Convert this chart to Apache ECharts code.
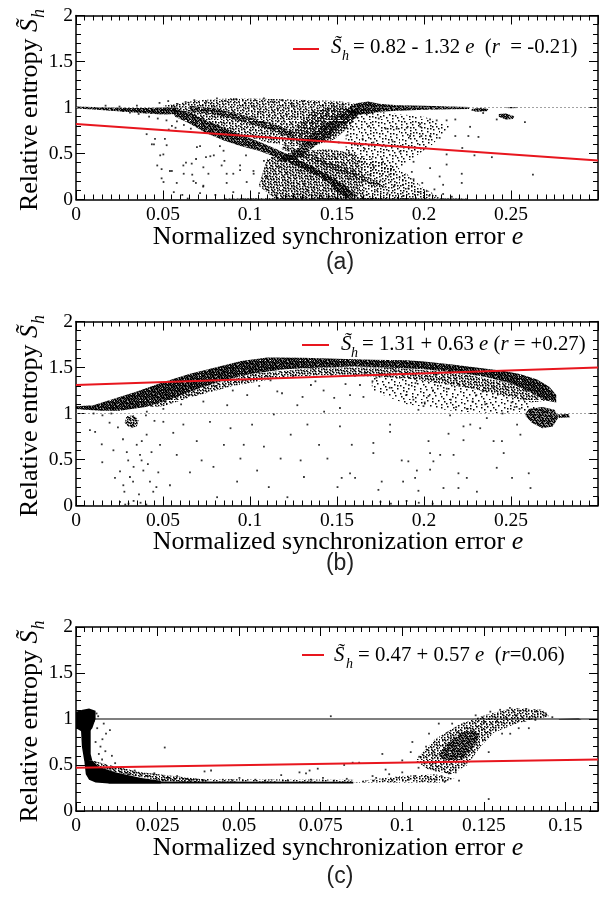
<!DOCTYPE html>
<html><head><meta charset="utf-8">
<script src="https://cdn.jsdelivr.net/npm/echarts@6/dist/echarts.min.js"></script>
<style>html,body{margin:0;padding:0;background:#fff}#c{width:599px;height:898px}</style>
</head><body><div id="c"></div>
<script>
// ---------------- DATA ----------------
const yTicks = [0, 0.5, 1, 1.5, 2];
const xTicksAB = [0, 0.05, 0.1, 0.15, 0.2, 0.25, 0.3];
const xTicksC = [0, 0.025, 0.05, 0.075, 0.1, 0.125, 0.15];
const xMaxC = 0.16;

// regression lines (endpoints)
const regA = [[0, 0.82], [0.3, 0.424]];
const regB = [[0, 1.31], [0.3, 1.499]];
const regC = [[0, 0.47], [0.16, 0.561]];
// reference lines at S=1
const refA = [[0, 1], [0.3, 1]];
const refB = [[0, 1], [0.3, 1]];
const refC = [[0, 1], [0.16, 1]];

const legendA = ['= 0.82 - 1.32 ', 'e', '  (', 'r', '  = -0.21)'];
const legendB = ['= 1.31 + 0.63 ', 'e', ' (', 'r', ' = +0.27)'];
const legendC = ['= 0.47 + 0.57 ', 'e', '  (', 'r', '=0.06)'];
const panelLabels = ['(a)', '(b)', '(c)'];

// dense point clouds, outlined as polygons [e, S]
const polyA = [
 [[0.05,1.02],[0.07,1.08],[0.09,1.1],[0.12,1.09],[0.15,1.07],[0.162,1.04],[0.166,0.97],[0.16,0.85],[0.15,0.72],[0.14,0.6],[0.125,0.58],[0.11,0.62],[0.095,0.7],[0.08,0.8],[0.065,0.9]],
 [[0,1.012],[0.01,1.005],[0.02,1.0],[0.03,0.995],[0.04,0.995],[0.05,1.0],[0.058,1.0],[0.058,0.93],[0.05,0.925],[0.04,0.935],[0.03,0.95],[0.02,0.965],[0.01,0.978],[0,0.988]],
 [[0.055,0.99],[0.065,0.95],[0.075,0.86],[0.085,0.78],[0.095,0.70],[0.105,0.63],[0.115,0.55],[0.125,0.46],[0.135,0.37],[0.145,0.27],[0.155,0.15],[0.16,0.06],[0.158,0.0],[0.15,0.08],[0.145,0.19],[0.135,0.29],[0.125,0.38],[0.115,0.46],[0.105,0.53],[0.095,0.58],[0.085,0.64],[0.075,0.72],[0.065,0.83],[0.057,0.90]],
 [[0.065,1.02],[0.08,0.99],[0.095,0.92],[0.11,0.84],[0.125,0.74],[0.125,0.66],[0.11,0.77],[0.095,0.85],[0.08,0.92],[0.065,0.96]],
 [[0.115,0.42],[0.125,0.52],[0.135,0.7],[0.145,0.85],[0.155,0.95],[0.162,0.98],[0.162,0.9],[0.152,0.8],[0.142,0.65],[0.132,0.5],[0.124,0.4]],
 [[0.11,0.45],[0.125,0.52],[0.145,0.55],[0.16,0.5],[0.165,0.3],[0.165,0.0],[0.115,0.0],[0.105,0.15]],
 [[0.16,0.5],[0.175,0.42],[0.19,0.28],[0.2,0.12],[0.21,0.02],[0.165,0.0],[0.165,0.3]],
 [[0.12,0.6],[0.14,0.45],[0.16,0.3],[0.175,0.18],[0.178,0.12],[0.172,0.14],[0.158,0.25],[0.138,0.4],[0.118,0.55]],
 [[0.155,0.96],[0.158,1.02],[0.162,1.05],[0.168,1.065],[0.174,1.04],[0.185,1.025],[0.2,1.02],[0.215,1.01],[0.226,1.005],[0.226,0.985],[0.215,0.98],[0.2,0.975],[0.185,0.965],[0.174,0.955],[0.168,0.93],[0.16,0.92]],
 [[0.228,0.99],[0.233,0.995],[0.237,0.985],[0.236,0.96],[0.23,0.955],[0.227,0.97]],
 [[0.247,1.0],[0.25,1.006],[0.254,1.003],[0.254,0.994],[0.25,0.992],[0.247,0.995]],
 [[0.243,0.93],[0.247,0.935],[0.252,0.905],[0.251,0.875],[0.247,0.87],[0.243,0.9]],
 [[0.085,0],[0.225,0],[0.225,0.012],[0.15,0.02],[0.085,0.012]],
 [[0.155,0.92],[0.175,0.95],[0.2,0.9],[0.215,0.8],[0.205,0.6],[0.19,0.4],[0.18,0.25],[0.165,0.3],[0.155,0.5]],
 [[0.125,0.75],[0.135,0.95],[0.15,1.02],[0.16,0.98],[0.158,0.8],[0.148,0.65],[0.135,0.58],[0.126,0.62]]
];
const densA = [0.28, 0.85, 0.8, 0.6, 0.6, 0.35, 0.18, 0.45, 0.9, 0.85, 0.95, 0.8, 0.7, 0.12, 0.4];

const polyB = [
 [[0,1.08],[0.01,1.09],[0.02,1.15],[0.035,1.24],[0.05,1.34],[0.065,1.43],[0.08,1.5],[0.095,1.57],[0.11,1.61],[0.13,1.605],[0.15,1.595],[0.17,1.585],[0.19,1.58],[0.2,1.565],[0.215,1.535],[0.23,1.5],[0.245,1.465],[0.255,1.43],[0.265,1.37],[0.272,1.29],[0.276,1.2],[0.276,1.12],[0.27,1.14],[0.262,1.22],[0.25,1.33],[0.235,1.4],[0.22,1.44],[0.2,1.48],[0.18,1.5],[0.16,1.51],[0.14,1.5],[0.12,1.48],[0.1,1.43],[0.085,1.36],[0.07,1.27],[0.055,1.16],[0.04,1.07],[0.025,1.03],[0.015,1.03],[0.005,1.04],[0,1.05]],
 [[0.04,1.07],[0.07,1.27],[0.1,1.43],[0.14,1.5],[0.18,1.5],[0.22,1.44],[0.25,1.33],[0.262,1.22],[0.27,1.14],[0.262,1.12],[0.245,1.2],[0.22,1.3],[0.19,1.38],[0.15,1.42],[0.12,1.4],[0.09,1.3],[0.065,1.17],[0.05,1.08]],
 [[0.17,1.4],[0.2,1.38],[0.23,1.3],[0.255,1.18],[0.265,1.05],[0.25,1.0],[0.22,1.02],[0.19,1.1],[0.17,1.25]],
 [[0.26,1.05],[0.268,1.07],[0.275,1.04],[0.277,0.95],[0.274,0.86],[0.268,0.84],[0.262,0.9],[0.258,0.98]],
 [[0.276,0.99],[0.283,0.995],[0.284,0.96],[0.277,0.95]],
 [[0.029,0.97],[0.033,0.98],[0.036,0.93],[0.035,0.86],[0.031,0.84],[0.028,0.9]]
];
const densB = [0.95, 0.35, 0.09, 0.75, 0.85, 0.5];

const polyC = [
 [[0,1.08],[0.002,1.1],[0.004,1.115],[0.006,1.09],[0.006,1.0],[0.005,0.9],[0.004,0.86],[0.002,0.86],[0,0.9]],
 [[0.0015,0.9],[0.0045,0.9],[0.0045,0.62],[0.005,0.55],[0.0025,0.55],[0.0018,0.7]],
 [[0.0025,0.56],[0.005,0.55],[0.007,0.48],[0.012,0.42],[0.02,0.36],[0.026,0.33],[0.026,0.3],[0.01,0.3],[0.006,0.31],[0.004,0.34],[0.003,0.4]],
 [[0.005,0.55],[0.01,0.5],[0.02,0.42],[0.03,0.38],[0.04,0.34],[0.04,0.31],[0.026,0.33],[0.012,0.42],[0.007,0.48]],
 [[0.01,0.3],[0.085,0.3],[0.085,0.318],[0.025,0.322],[0.01,0.33]],
 [[0.025,0.322],[0.085,0.318],[0.085,0.34],[0.05,0.345],[0.025,0.35]],
 [[0.085,0.31],[0.1,0.31],[0.113,0.31],[0.116,0.35],[0.11,0.4],[0.1,0.38],[0.09,0.34]],
 [[0.111,0.6],[0.114,0.75],[0.118,0.85],[0.122,0.88],[0.124,0.82],[0.121,0.65],[0.118,0.55],[0.114,0.53]],
 [[0.104,0.55],[0.11,0.78],[0.118,0.95],[0.126,1.05],[0.134,1.12],[0.143,1.1],[0.145,1.03],[0.135,0.95],[0.128,0.85],[0.124,0.7],[0.12,0.5],[0.115,0.4],[0.108,0.45]],
 [[0.148,1.0],[0.154,1.005],[0.155,0.995],[0.148,0.995]]
];
const densC = [1, 1, 1, 0.4, 1, 0.25, 0.25, 0.6, 0.3, 1];

// sparse points [e, S]
const scatA = [[0.0406,0.71],[0.0448,0.60],[0.0502,0.49],[0.0467,0.37],[0.0492,0.23],[0.0503,0.19],[0.0551,0.31],[0.0617,0.37],[0.0665,0.39],[0.0619,0.28],[0.0668,0.27],[0.0713,0.58],[0.0761,0.28],[0.0792,0.48],[0.0827,0.58],[0.0837,0.37],[0.0866,0.18],[0.0904,0.28],[0.0943,0.32],[0.0981,0.19],[0.1021,0.28],[0.0689,0.18],[0.0731,0.14],[0.0562,0.08],[0.0611,0.05],[0.0642,0.01],[0.0713,0.07],[0.0801,0.05],[0.0904,0.08],[0.1052,0.07],[0.0551,0.80],[0.0533,0.76],[0.0572,0.78],[0.0454,0.66],[0.0511,0.66],[0.0521,0.59],[0.0436,0.60],[0.0484,0.48],[0.0695,0.57],[0.0772,0.47],[0.0848,0.53],[0.0632,0.40],[0.0690,0.44],[0.0747,0.46],[0.0853,0.42],[0.0977,0.48],[0.1080,0.42],[0.1130,0.45],[0.0492,0.33],[0.0540,0.31],[0.0732,0.35],[0.0866,0.28],[0.0943,0.37],[0.1020,0.31],[0.1095,0.24],[0.0675,0.20],[0.0732,0.15],[0.0579,0.18],
 [0.036,0.93],[0.031,0.945],[0.042,0.90],[0.047,0.88],[0.052,0.86],[0.058,0.85],[0.062,0.81],[0.066,0.77],[0.045,0.97],[0.025,1.01],[0.017,1.02],[0.035,1.02],[0.048,1.05],[0.053,1.07],[0.058,1.04],[0.027,0.96],[0.039,0.95],
 [0.063,1.06],[0.068,1.08],[0.075,1.06],[0.081,1.10],[0.086,1.07],[0.092,1.09],[0.097,1.05],[0.103,1.08],[0.108,1.10],[0.113,1.06],[0.118,1.08],[0.124,1.04],[0.131,1.07],[0.137,1.05],[0.142,1.02],[0.148,1.04],[0.153,1.03],
 [0.105,0.95],[0.111,0.90],[0.116,0.98],[0.121,0.92],[0.126,0.95],[0.131,0.88],[0.136,0.82],[0.141,0.90],[0.146,0.68],[0.151,0.62],[0.156,0.70],[0.161,0.60],[0.166,0.55],[0.171,0.62],[0.176,0.58],[0.129,0.60],[0.124,0.64],[0.118,0.70],[0.112,0.72],
 [0.117,0.35],[0.121,0.28],[0.122,0.19],[0.125,0.12],[0.127,0.06],[0.129,0.31],[0.131,0.17],[0.133,0.09],[0.135,0.25],[0.137,0.13],[0.139,0.42],[0.141,0.04],[0.143,0.21],[0.144,0.33],[0.147,0.11],[0.149,0.45],[0.150,0.29],[0.153,0.38],[0.155,0.07],[0.157,0.23],[0.159,0.31],[0.161,0.13],[0.163,0.41],[0.164,0.19],[0.167,0.05],[0.169,0.27],[0.171,0.36],[0.173,0.10],[0.175,0.21],[0.176,0.44],[0.179,0.07],[0.181,0.33],[0.183,0.15],[0.186,0.24],[0.188,0.04],[0.191,0.12],[0.193,0.30],[0.197,0.08],[0.199,0.18],[0.203,0.04],[0.206,0.11],[0.211,0.06],[0.216,0.03],
 [0.1843,0.77],[0.1901,0.78],[0.1977,0.82],[0.2035,0.87],[0.2073,0.86],[0.213,0.86],[0.218,0.87],[0.198,0.79],[0.192,0.69],[0.1985,0.69],[0.2035,0.69],[0.209,0.67],[0.218,0.69],[0.2255,0.69],[0.2313,0.68],[0.222,0.56],[0.229,0.48],[0.239,0.46],[0.2217,0.28],[0.2217,0.18],[0.2626,0.27],[0.213,0.38],[0.2035,0.34],[0.194,0.41],[0.186,0.52],[0.209,0.25],[0.211,0.16],[0.2016,0.09],[0.194,0.22],[0.188,0.16],[0.180,0.27],[0.1765,0.41],[0.2418,0.87],[0.2265,0.79],[0.213,0.49],[0.182,0.63],[0.178,0.77],[0.174,0.88],[0.1685,0.80],[0.1647,0.66],[0.157,0.51],[0.258,0.84],[0.234,0.94]];

const scatB = [[0.008,0.82],[0.011,0.80],[0.0148,0.665],[0.0151,0.47],[0.0215,0.60],[0.0253,0.37],[0.0272,0.22],[0.0278,0.15],[0.0253,0.04],[0.030,0.49],[0.031,0.31],[0.0328,0.26],[0.0349,0.66],[0.0368,0.55],[0.0377,0.49],[0.0387,0.38],[0.0406,0.77],[0.0425,0.26],[0.0444,0.15],[0.0473,0.36],[0.0483,0.66],[0.0502,0.91],[0.054,0.22],[0.0559,0.79],[0.0579,0.55],[0.0617,0.88],[0.0646,1.20],[0.0655,0.36],[0.0694,0.70],[0.0722,0.49],[0.0732,1.13],[0.077,0.91],[0.079,0.42],[0.0811,0.09],[0.085,0.66],[0.0869,1.09],[0.0888,0.84],[0.0926,0.26],[0.0945,0.51],[0.0964,0.66],[0.0984,1.20],[0.1012,0.88],[0.1041,0.38],[0.108,0.64],[0.1108,0.20],[0.1137,0.99],[0.1157,1.24],[0.1176,0.51],[0.1215,0.09],[0.1234,0.77],[0.1272,1.09],[0.1291,0.49],[0.131,0.31],[0.133,0.88],[0.135,1.31],[0.1397,0.66],[0.1426,1.02],[0.1445,0.51],[0.1484,1.17],[0.1503,0.20],
 [0.027,0.72],[0.0292,0.58],[0.0331,0.42],[0.0362,0.12],[0.0378,0.7],[0.0413,0.45],[0.0434,0.58],[0.0462,0.2],[0.0224,0.3],[0.0193,0.9],[0.0241,0.85],[0.0402,0.98],[0.0451,0.92],[0.0331,0.05],[0.0302,0.02],[0.0371,0.03],[0.0283,0.01],[0.0404,0.01],
 [0.1517,1.06],[0.1517,0.86],[0.1575,1.20],[0.1585,0.66],[0.1527,0.30],[0.1575,0.35],[0.1604,0.30],[0.1632,1.31],[0.1709,0.68],[0.1709,0.57],[0.1738,0.17],[0.1757,0.26],[0.1805,0.80],[0.1805,0.88],[0.1872,0.49],[0.191,0.48],[0.188,0.26],[0.1939,1.15],[0.1949,0.30],[0.1959,0.38],[0.1968,0.16],[0.1997,1.08],[0.2026,0.70],[0.2035,0.57],[0.2035,0.39],[0.2054,0.48],[0.2093,0.55],[0.2112,0.19],[0.2141,0.78],[0.215,0.98],[0.217,0.55],[0.2198,0.35],[0.2198,0.19],[0.2227,0.71],[0.2227,0.86],[0.2246,0.30],[0.2266,0.88],[0.2304,0.15],[0.2323,0.84],[0.2361,0.95],[0.24,0.70],[0.2418,0.41],[0.2448,0.70],[0.2458,0.57],[0.2506,0.30],[0.2535,0.88],[0.2554,0.77],[0.2602,0.35],[0.2612,0.19],
 [0.1053,1.3],[0.1118,1.36],[0.1184,1.22],[0.1247,1.4],[0.1302,1.18],[0.1376,1.35],[0.1423,1.25],[0.1468,1.42],[0.1549,1.32],[0.1603,1.41],[0.1652,1.18],[0.1704,1.35],[0.1751,1.43],[0.1803,1.28],[0.1862,1.39],[0.1897,1.2],[0.1951,1.33],[0.2004,1.12],[0.2052,1.25],[0.2098,1.38],[0.2154,1.15],[0.2203,1.3],[0.2247,1.05],[0.2301,1.2],[0.2352,1.1],[0.2398,1.28],[0.2451,1.0],[0.2503,1.12],[0.2549,1.05],[0.0702,1.22],[0.0803,1.3],[0.0901,1.25],[0.0953,1.35],[0.0604,1.1],[0.0502,1.05],[0.0407,1.02],[0.0203,1.0],[0.0152,0.98],[0.0101,1.0],
 [0.175,0.04],[0.181,0.02],[0.19,0.05],[0.197,0.03],[0.205,0.02],
 [0.1658,1.44],[0.1727,1.39],[0.1842,1.46],[0.1913,1.31],[0.2068,1.42],[0.2131,1.27],[0.2186,1.36],[0.2279,1.13],[0.2337,1.24],[0.2412,1.17],[0.2467,1.29],[0.2521,1.07],[0.2573,1.16],[0.2185,1.07],[0.2026,1.19],[0.1968,1.04]];

const scatC = [[0.0272,0.69],[0.0104,0.88],[0.0092,0.84],[0.0081,0.78],[0.0063,1.06],[0.0394,0.43],[0.0414,0.44],[0.0629,0.39],[0.0685,0.42],[0.0705,0.41],[0.0716,0.44],[0.0741,0.46],[0.0757,0.36],[0.0501,0.36],[0.0781,1.03],
 [0.006,0.75],[0.007,0.62],[0.0075,0.7],[0.0065,0.9],[0.008,0.56],[0.009,0.65],[0.0055,0.98],[0.0068,1.03],[0.011,0.6],[0.012,0.52],[0.0085,0.95],
 [0.014,0.42],[0.016,0.4],[0.018,0.44],[0.022,0.38],[0.024,0.41],[0.028,0.36],[0.031,0.38],[0.034,0.35],[0.037,0.34],[0.045,0.34],[0.048,0.33],[0.055,0.34],[0.058,0.33],[0.065,0.33],[0.072,0.34],[0.079,0.33],[0.083,0.35],
 [0.0822,0.50],[0.0848,0.525],[0.0868,0.525],[0.0909,0.38],[0.0939,0.62],[0.0949,0.45],[0.1000,0.55],[0.1031,0.75],[0.1026,0.64],[0.1052,0.59],[0.1073,0.70],[0.1082,0.84],[0.1092,0.62],[0.1103,0.44],[0.1112,0.95],[0.1153,0.95],[0.1143,0.41],[0.1164,0.42],[0.1174,0.33],[0.1225,1.04],[0.1245,0.88],[0.1265,0.64],[0.1306,0.84],[0.1331,0.84],[0.1357,0.90],[0.1388,0.90],[0.1408,0.99],[0.1439,1.04],[0.1265,0.13],
 [0.088,0.32],[0.091,0.33],[0.094,0.34],[0.097,0.33],[0.099,0.36],[0.102,0.34],[0.104,0.38],[0.106,0.33],[0.108,0.36],[0.11,0.34],[0.112,0.38],[0.113,0.32],[0.096,0.4],[0.1,0.42],[0.105,0.47],[0.109,0.5],[0.092,0.36],
 [0.127,1.08],[0.13,1.1],[0.133,1.12],[0.136,1.09],[0.138,1.11],[0.141,1.08],[0.144,1.06],[0.146,1.02],[0.132,1.0],[0.129,0.98],[0.125,0.96],[0.12,0.9],[0.117,0.86],[0.115,0.8],[0.139,1.01],[0.135,1.04]];

// ---------------- CHART ----------------
const SERIF = '"Liberation Serif","Times New Roman",serif';
const SANS = '"Liberation Sans",Helvetica,Arial,sans-serif';
const RED = '#e8161e';
const mctx = document.createElement('canvas').getContext('2d');
function tw(t, f) { mctx.font = f; return mctx.measureText(t).width; }

// stipple fill texture for dense clouds (style only: dots of a fixed low-discrepancy tile)
const patCache = {};
function stipple(d) {
  if (d >= 1) return '#000';
  const key = d.toFixed(2);
  if (patCache[key]) return patCache[key];
  const T = 40, cv = document.createElement('canvas');
  cv.width = T; cv.height = T;
  const c = cv.getContext('2d');
  c.fillStyle = '#000';
  const n = Math.round(d * T * T * 0.62);
  const a1 = 0.7548776662466927, a2 = 0.5698402909980532;
  for (let i = 1; i <= n; i++) {
    const u = (0.5 + a1 * i) % 1, v = (0.5 + a2 * i) % 1;
    c.fillRect(Math.floor(u * T), Math.floor(v * T), 1.5, 1.5);
  }
  patCache[key] = {image: cv, repeat: 'repeat'};
  return patCache[key];
}

const gridTops = [15.5, 321.5, 627];
const GH = 184;
const panels = [
  {xTicks: xTicksAB, xMax: xTicksAB[xTicksAB.length-1], poly: polyA, dens: densA, scat: scatA, reg: regA, ref: refA, refSolid: false, legend: legendA,
   leg: {l0: 293, l1: 319, ly: 49, sx: 331, hx: 342, rx: 353, base: 55}, label: {y: 263}, xt: 246.5},
  {xTicks: xTicksAB, xMax: xTicksAB[xTicksAB.length-1], poly: polyB, dens: densB, scat: scatB, reg: regB, ref: refB, refSolid: false, legend: legendB,
   leg: {l0: 302, l1: 329, ly: 345, sx: 341, hx: 351, rx: 362, base: 351.7}, label: {y: 564}, xt: 551.5},
  {xTicks: xTicksC, xMax: xMaxC, poly: polyC, dens: densC, scat: scatC, reg: regC, ref: refC, refSolid: true, legend: legendC,
   leg: {l0: 302, l1: 324, ly: 655, sx: 334, hx: 346, rx: 358, base: 662.7}, label: {y: 877}, xt: 857.5}
];

const option = {animation: false, backgroundColor: '#fff', grid: [], xAxis: [], yAxis: [], series: [], graphic: []};

const lineBlack = {color: '#000', width: 1.5};
panels.forEach((p, gi) => {
  option.grid.push({left: 76, right: 1, top: gridTops[gi], height: GH, containLabel: false, outerBoundsMode: 'none'});
  const xInt = p.xTicks[1] - p.xTicks[0];
  const xBase = {type: 'value', gridIndex: gi, min: 0, max: p.xMax, interval: xInt,
    axisLine: {show: true, onZero: false, lineStyle: lineBlack},
    axisTick: {show: true, inside: true, length: 9, lineStyle: {color: '#000', width: 1}},
    minorTick: {show: true, splitNumber: 10, length: 5, lineStyle: {color: '#000', width: 1}},
    splitLine: {show: false}, minorSplitLine: {show: false}};
  option.xAxis.push(Object.assign({}, xBase, {position: 'bottom',
    axisLabel: {show: true, fontFamily: SERIF, fontSize: 19.5, color: '#000', margin: 5, showMaxLabel: false, showMinLabel: true}}));
  option.xAxis.push(Object.assign({}, xBase, {position: 'top', axisLabel: {show: false}}));
  const yBase = {type: 'value', gridIndex: gi, min: yTicks[0], max: yTicks[yTicks.length-1], interval: yTicks[1] - yTicks[0],
    axisLine: {show: true, onZero: false, lineStyle: lineBlack},
    axisTick: {show: true, inside: true, length: 9, lineStyle: {color: '#000', width: 1}},
    minorTick: {show: true, splitNumber: 5, length: 5, lineStyle: {color: '#000', width: 1}},
    splitLine: {show: false}, minorSplitLine: {show: false}};
  option.yAxis.push(Object.assign({}, yBase, {position: 'left',
    axisLabel: {show: true, fontFamily: SERIF, fontSize: 19.5, color: '#000', margin: 3}}));
  option.yAxis.push(Object.assign({}, yBase, {position: 'right', axisLabel: {show: false}}));

  const xi = gi * 2, yi = gi * 2;
  const polys = p.poly, dens = p.dens;
  option.series.push({type: 'custom', xAxisIndex: xi, yAxisIndex: yi, silent: true, z: 1,
    data: polys.map((q, i) => [q[0][0], q[0][1], i]),
    encode: {x: 0, y: 1},
    renderItem: function (params, api) {
      const i = api.value(2);
      const pts = polys[i].map(v => api.coord(v));
      return {type: 'polygon', shape: {points: pts}, style: {fill: stipple(dens[i]), stroke: null, lineWidth: 0}};
    }});
  option.series.push({type: 'scatter', xAxisIndex: xi, yAxisIndex: yi, data: p.scat, symbol: 'rect', symbolSize: 1.8,
    itemStyle: {color: '#000'}, silent: true, z: 3});
  option.series.push({type: 'line', xAxisIndex: xi, yAxisIndex: yi, data: p.ref, symbol: 'none', silent: true, z: 2,
    lineStyle: p.refSolid ? {color: '#000', width: 1.2, type: 'solid'} : {color: '#8a8a8a', width: 0.8, type: [2, 2]}});
  option.series.push({type: 'line', xAxisIndex: xi, yAxisIndex: yi, data: p.reg, symbol: 'none', silent: true, z: 5,
    lineStyle: {color: RED, width: 2}});

  // legend
  const L = p.leg, fs = 20.8, mid = L.base - 0.34 * fs;
  option.graphic.push({type: 'line', shape: {x1: L.l0, y1: L.ly, x2: L.l1, y2: L.ly}, style: {stroke: RED, lineWidth: 2}, silent: true});
  option.graphic.push({type: 'text', x: L.sx, y: mid, style: {text: 'S\u0303', font: 'italic ' + fs + 'px ' + SERIF, fill: '#000', textAlign: 'left', textVerticalAlign: 'middle'}, silent: true});
  option.graphic.push({type: 'text', x: L.hx, y: L.base + 6 - 0.34 * 14, style: {text: 'h', font: 'italic 14px ' + SERIF, fill: '#000', textAlign: 'left', textVerticalAlign: 'middle'}, silent: true});
  let cx = L.rx;
  p.legend.forEach((s, k) => {
    const f = (k % 2 === 1 ? 'italic ' : '') + fs + 'px ' + SERIF;
    option.graphic.push({type: 'text', x: cx, y: mid, style: {text: s, font: f, fill: '#000', textAlign: 'left', textVerticalAlign: 'middle'}, silent: true});
    cx += tw(s, f);
  });

  // x title
  const tfs = 26;
  const xtA = 'Normalized synchronization error ', xtB = 'e';
  const fN = tfs + 'px ' + SERIF, fI = 'italic ' + tfs + 'px ' + SERIF;
  const wx = tw(xtA, fN) + tw(xtB, fI);
  const x0 = 338 - wx / 2;
  option.graphic.push({type: 'text', x: x0, y: p.xt - 0.34 * tfs, style: {text: xtA, font: fN, fill: '#000', textAlign: 'left', textVerticalAlign: 'middle'}, silent: true});
  option.graphic.push({type: 'text', x: x0 + tw(xtA, fN), y: p.xt - 0.34 * tfs, style: {text: xtB, font: fI, fill: '#000', textAlign: 'left', textVerticalAlign: 'middle'}, silent: true});

  // y title (rotated)
  const ytA = 'Relative entropy ', ytS = 'S\u0303', ytH = 'h';
  const fH = 'italic 18px ' + SERIF;
  const w1 = tw(ytA, fN), w2 = tw('S', fI), w3 = tw(ytH, fH);
  const W = w1 + w2 + w3;
  const cy = gridTops[gi] + GH / 2 + 3;
  option.graphic.push({type: 'group', x: 39, y: cy + W / 2, rotation: Math.PI / 2, silent: true, children: [
    {type: 'text', x: 0, y: -0.34 * tfs, style: {text: ytA, font: fN, fill: '#000', textAlign: 'left', textVerticalAlign: 'middle'}},
    {type: 'text', x: w1, y: -0.34 * tfs, style: {text: ytS, font: fI, fill: '#000', textAlign: 'left', textVerticalAlign: 'middle'}},
    {type: 'text', x: w1 + w2 + 1, y: 6 - 0.34 * 18, style: {text: ytH, font: fH, fill: '#000', textAlign: 'left', textVerticalAlign: 'middle'}}
  ]});

  // panel label
  option.graphic.push({type: 'text', x: 340, y: p.label.y, style: {text: panelLabels[gi], font: '23px ' + SANS, fill: '#222', textAlign: 'center', textVerticalAlign: 'middle'}, silent: true});
});

const chart = echarts.init(document.getElementById('c'), null, {renderer: 'canvas'});
chart.setOption(option);
</script>
</body></html>
